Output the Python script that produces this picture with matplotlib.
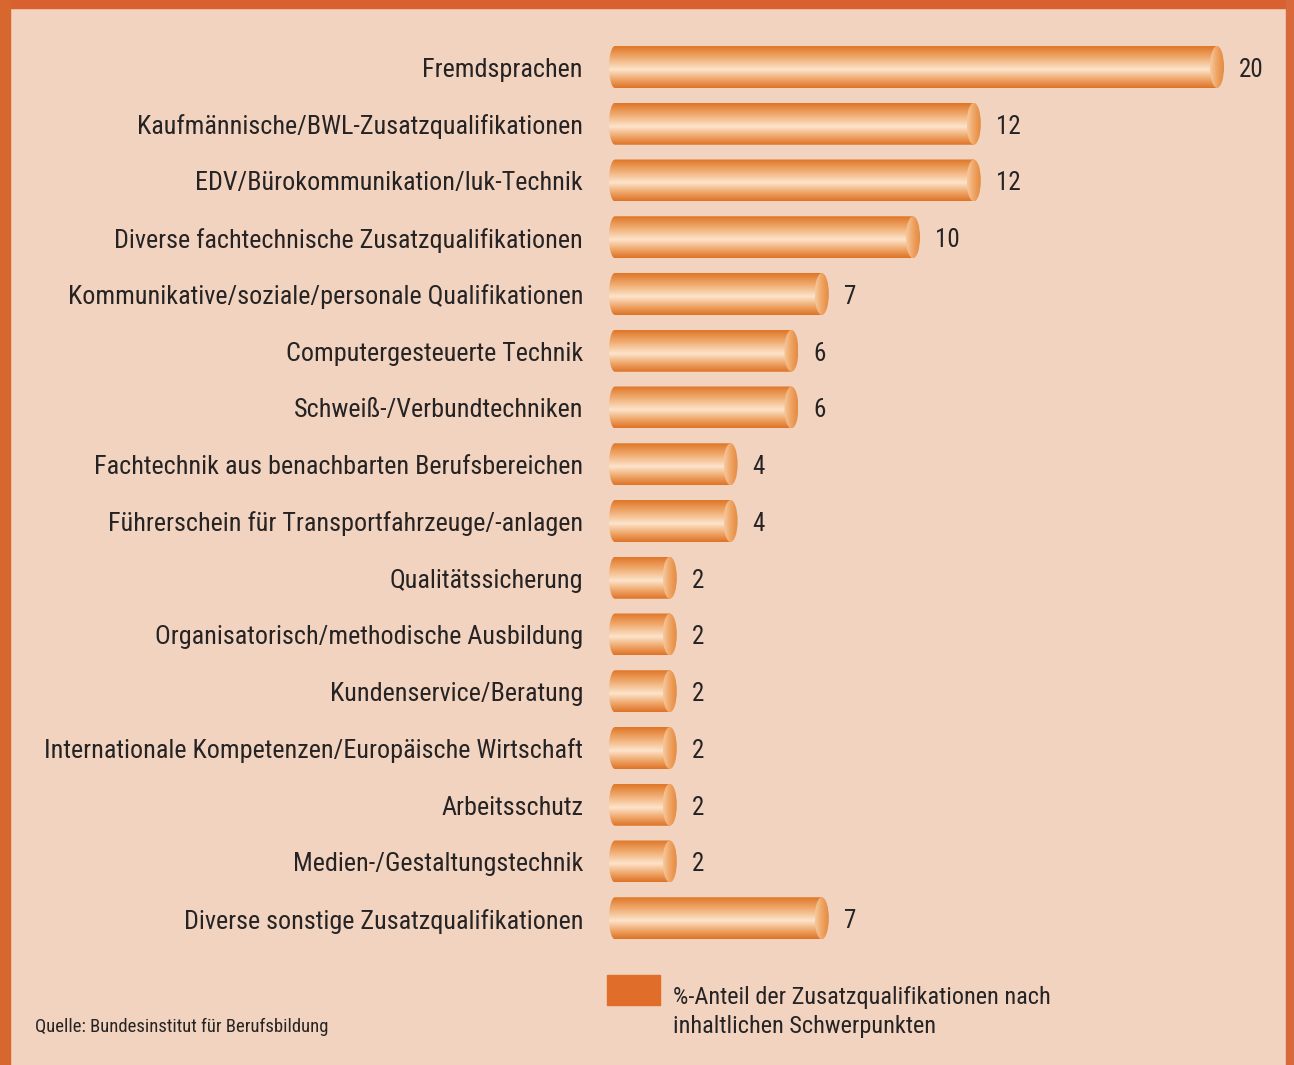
import numpy as np
import matplotlib.pyplot as plt
from matplotlib.colors import LinearSegmentedColormap
from matplotlib.patches import Ellipse, Rectangle, PathPatch
from matplotlib.path import Path

categories = [
    "Fremdsprachen",
    "Kaufmännische/BWL-Zusatzqualifikationen",
    "EDV/Bürokommunikation/luk-Technik",
    "Diverse fachtechnische Zusatzqualifikationen",
    "Kommunikative/soziale/personale Qualifikationen",
    "Computergesteuerte Technik",
    "Schweiß-/Verbundtechniken",
    "Fachtechnik aus benachbarten Berufsbereichen",
    "Führerschein für Transportfahrzeuge/-anlagen",
    "Qualitätssicherung",
    "Organisatorisch/methodische Ausbildung",
    "Kundenservice/Beratung",
    "Internationale Kompetenzen/Europäische Wirtschaft",
    "Arbeitsschutz",
    "Medien-/Gestaltungstechnik",
    "Diverse sonstige Zusatzqualifikationen",
]
values = [20, 12, 12, 10, 7, 6, 6, 4, 4, 2, 2, 2, 2, 2, 2, 7]
legend_text = "%-Anteil der Zusatzqualifikationen nach\ninhaltlichen Schwerpunkten"
source_text = "Quelle: Bundesinstitut für Berufsbildung"

plt.rcParams["font.family"] = ["Roboto Condensed", "DejaVu Sans"]

BG = "#F1D3BF"
TXT = "#262324"

W, H = 1294, 1065
fig = plt.figure(figsize=(W / 100, H / 100), dpi=100, facecolor=BG)

# frame (top, left, right)
fig.patches.append(Rectangle((0, 1 - 8 / H), 1, 8 / H, transform=fig.transFigure, color="#D8612F", zorder=1))
fig.patches.append(Rectangle((0, 0), 10 / W, 1, transform=fig.transFigure, color="#D6672F", zorder=1))
fig.patches.append(Rectangle((1 - 8 / W, 0), 8 / W, 1, transform=fig.transFigure, color="#D9683A", zorder=1))

px_per_unit = 30.4
x0 = 609
xmax = 21.5
row = 56.75
top_c = 67
n = len(values)
ax_top = top_c - row / 2
ax_h = n * row
ax = fig.add_axes([x0 / W, (H - ax_top - ax_h) / H, xmax * px_per_unit / W, ax_h / H])
ax.axis("off")
ax.patch.set_alpha(0)

bar_cmap = LinearSegmentedColormap.from_list(
    "cyl", [(0, "#DF7627"), (0.25, "#EFA769"), (0.56, "#FDE4CC"), (0.8, "#EFA567"), (1, "#DE7327")])
cap_cmap = LinearSegmentedColormap.from_list("cap", ["#F6C9A0", "#EFA462", "#E58A40"])
grad = np.linspace(0, 1, 128).reshape(-1, 1)
hgrad = np.linspace(0, 1, 64).reshape(1, -1)

bh = 0.74
cap_w = 14 / px_per_unit
left_r = 6 / px_per_unit

for i, v in enumerate(values):
    y0, y1 = i - bh / 2, i + bh / 2
    # body outline with slightly rounded left end
    t = np.linspace(np.pi / 2, 3 * np.pi / 2, 30)
    lx = left_r + left_r * np.cos(t)
    ly = i - (bh / 2) * np.sin(t)
    verts = [(v, y0)] + list(zip(lx, ly)) + [(v, y1), (v, y0)]
    clip = PathPatch(Path(verts), transform=ax.transData, facecolor="none", edgecolor="none")
    ax.add_patch(clip)
    im = ax.imshow(grad, cmap=bar_cmap, aspect="auto", extent=(0, v, y1, y0),
                   interpolation="bicubic", zorder=2)
    im.set_clip_path(clip)
    # end cap
    cap = Ellipse((v, i), cap_w, bh, facecolor="none", edgecolor="none", zorder=3)
    ax.add_patch(cap)
    imc = ax.imshow(hgrad, cmap=cap_cmap, aspect="auto",
                    extent=(v - cap_w / 2, v + cap_w / 2, y1, y0), interpolation="bicubic", zorder=3)
    imc.set_clip_path(cap)
    ax.text(v + cap_w / 2 + 15 / px_per_unit, i + 0.05, str(v), ha="left", va="center",
            fontsize=18, color=TXT)
    ax.text(-26 / px_per_unit, i + 0.05, categories[i], ha="right", va="center",
            fontsize=18.8, color=TXT)

ax.set_xlim(0, xmax)
ax.set_ylim(n - 0.5, -0.5)

# legend
fig.patches.append(Rectangle((607 / W, 1 - 1005 / H), 53 / W, 30 / H, transform=fig.transFigure,
                             color="#E06D2A", zorder=2))
fig.text(673 / W, 1 - 1012 / H, legend_text, ha="left", va="center", fontsize=17.5,
         color=TXT, linespacing=1.32)
fig.text(35 / W, 1 - 1027 / H, source_text, ha="left", va="center", fontsize=13.4, color=TXT)

fig.savefig("out.png", dpi=100, facecolor=BG)
